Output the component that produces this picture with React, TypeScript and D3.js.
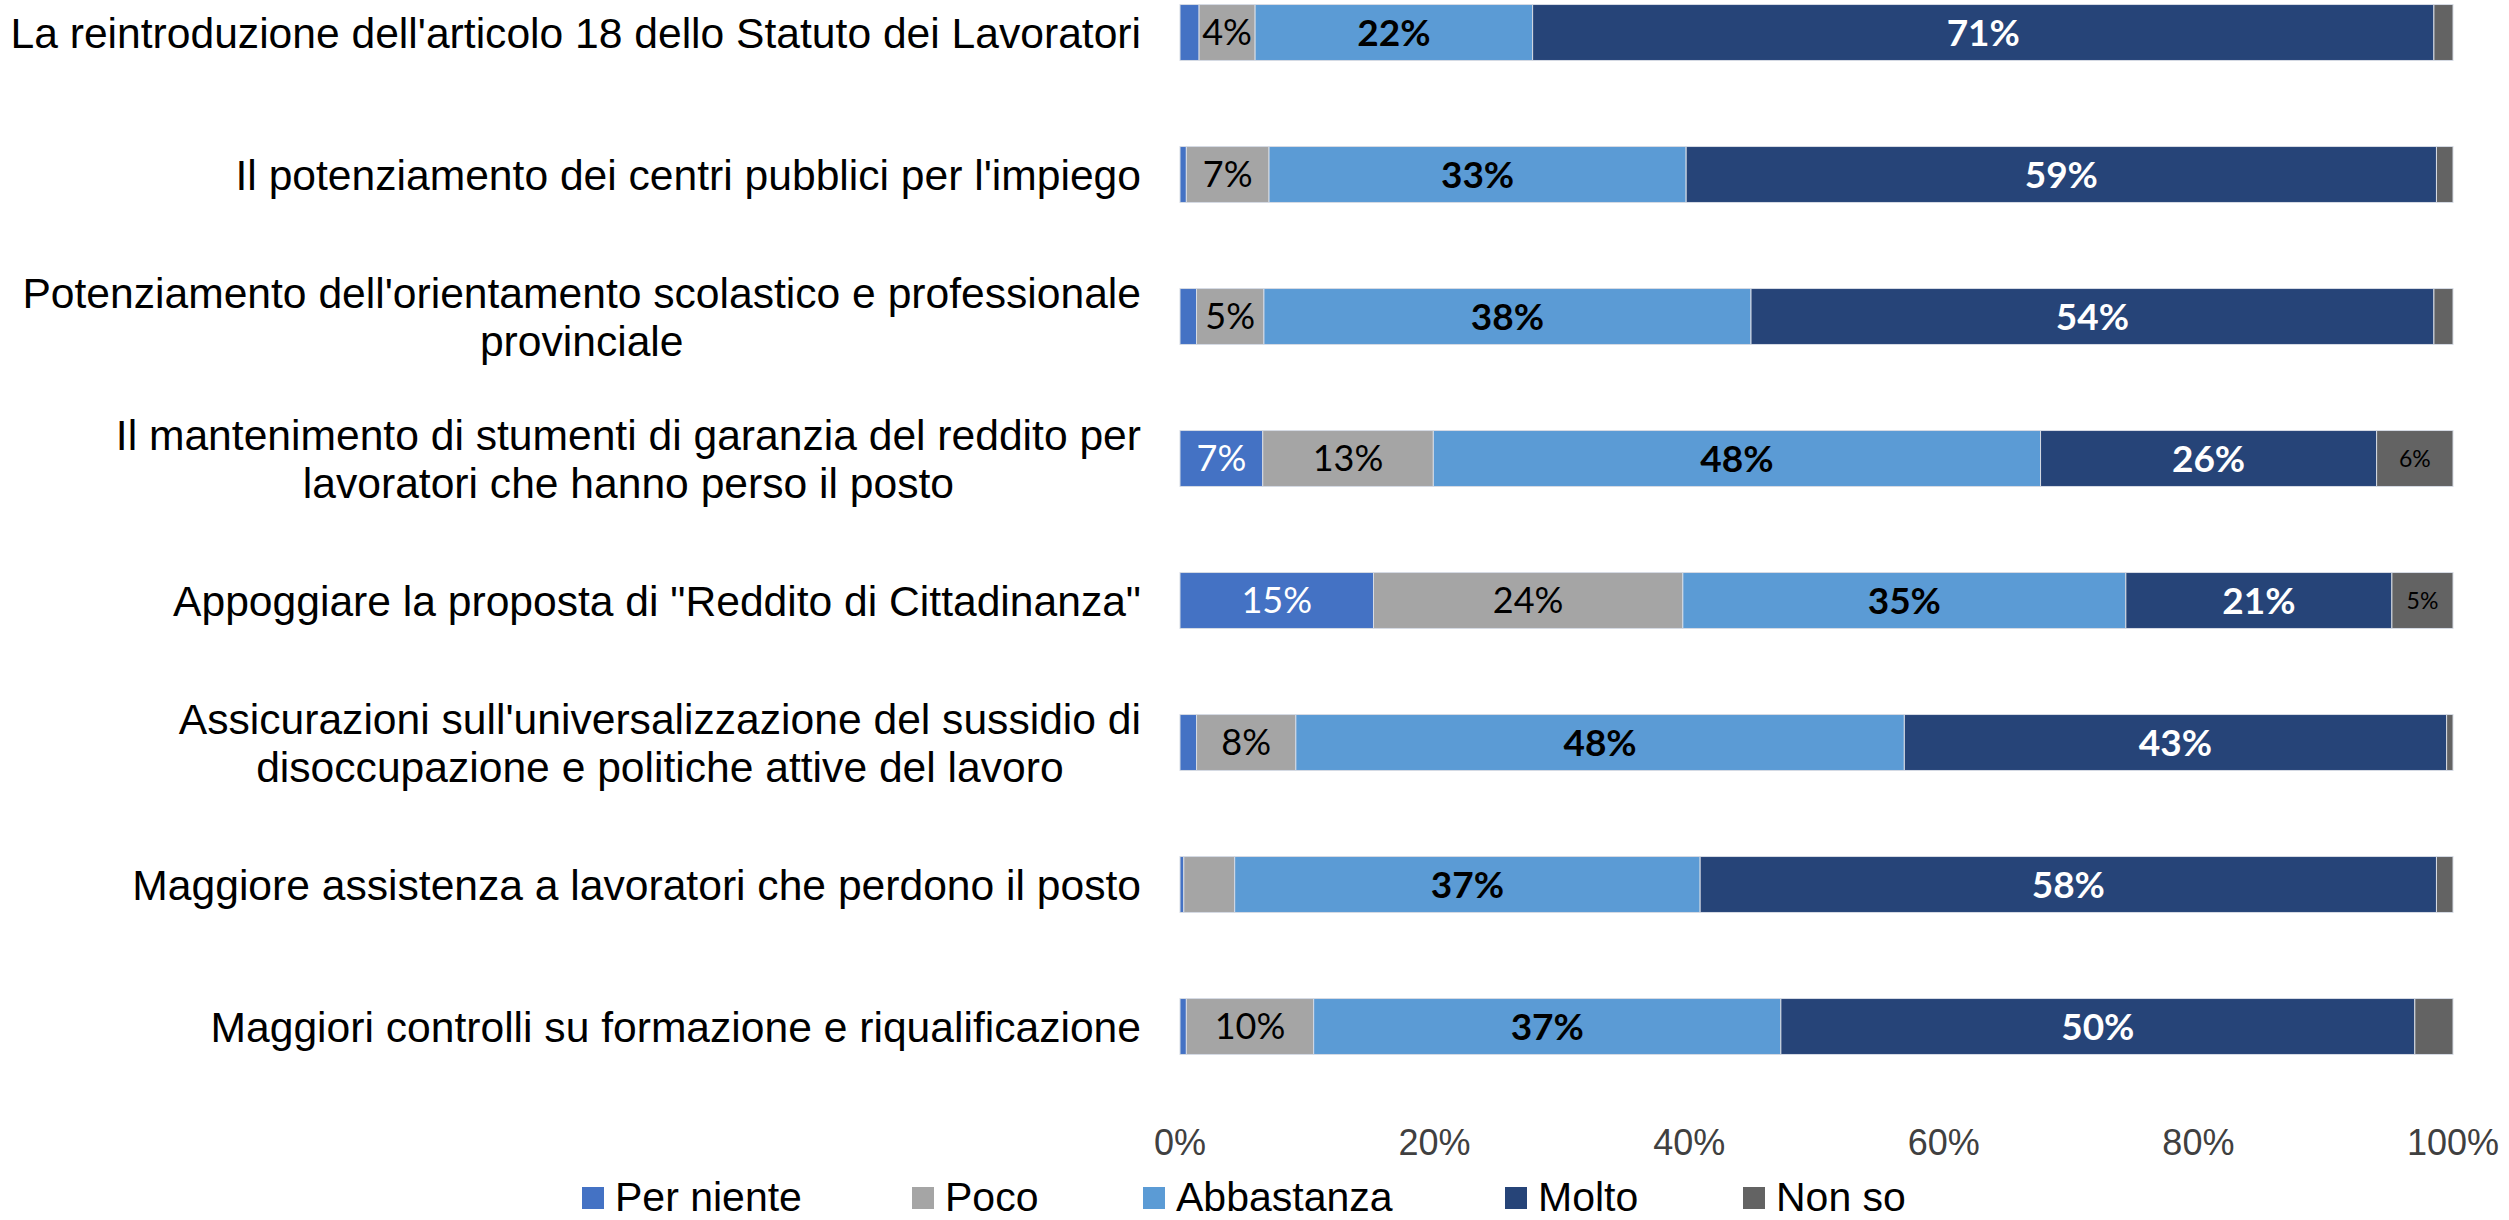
import React, { useEffect, useRef } from "react";
import * as d3 from "d3";

const categories = [
  "La reintroduzione dell'articolo 18 dello Statuto dei Lavoratori",
  "Il potenziamento dei centri pubblici per l'impiego",
  "Potenziamento dell'orientamento scolastico e professionale\nprovinciale",
  "Il mantenimento di stumenti di garanzia del reddito per\nlavoratori che hanno perso il posto",
  "Appoggiare la proposta di \"Reddito di Cittadinanza\"",
  "Assicurazioni sull'universalizzazione del sussidio di\ndisoccupazione e politiche attive del lavoro",
  "Maggiore assistenza a lavoratori che perdono il posto",
  "Maggiori controlli su formazione e riqualificazione",
];

const seriesNames = ["Per niente", "Poco", "Abbastanza", "Molto", "Non so"];

const perNiente = [1.5, 0.5, 1.3, 6.5, 15.2, 1.3, 0.3, 0.5];
const poco = [4.4, 6.5, 5.3, 13.4, 24.3, 7.8, 4.0, 10.0];
const abbastanza = [21.8, 32.8, 38.3, 47.7, 34.8, 47.8, 36.6, 36.7];
const molto = [70.8, 59.0, 53.7, 26.4, 20.9, 42.6, 57.9, 49.8];
const nonSo = [1.5, 1.3, 1.5, 6.0, 4.8, 0.5, 1.3, 3.0];

const tickValues = [0, 0.2, 0.4, 0.6, 0.8, 1];

const colors = ["#4472C4", "#A5A5A5", "#5B9BD5", "#264478", "#636363"];
const labelColors = ["#ffffff", "#000000", "#000000", "#ffffff", "#000000"];
const labelWeights = ["normal", "normal", "bold", "bold", "normal"];
const labelSizes = [36, 36, 37, 37, 23];

const App = () => {
  const svgEl = useRef(null);

  useEffect(() => {
    if (!svgEl.current) return;
    draw(svgEl.current);
  }, []);

  return (
    <svg
      ref={svgEl}
      width={2509}
      height={1220}
      style={{ position: "absolute", left: 0, top: 0, display: "block", background: "#fff" }}
    ></svg>
  );
};

function draw(svgNode) {
  const svg = d3.select(svgNode);
  svg.selectAll("*").remove();

  const table = categories.map((c, i) => ({
    cat: c,
    "Per niente": perNiente[i],
    Poco: poco[i],
    Abbastanza: abbastanza[i],
    Molto: molto[i],
    "Non so": nonSo[i],
  }));

  const stacked = d3.stack().keys(seriesNames).offset(d3.stackOffsetExpand)(table);

  const x = d3.scaleLinear().domain([0, 1]).range([1180, 2453]);
  const y = d3
    .scaleBand()
    .domain(categories)
    .range([-38.5, 1097.5])
    .paddingInner(0.606)
    .paddingOuter(0.303);

  // bars
  const layers = svg
    .append("g")
    .selectAll("g")
    .data(stacked)
    .join("g")
    .attr("fill", (d, i) => colors[i]);

  layers
    .selectAll("rect")
    .data((d) => d)
    .join("rect")
    .attr("x", (d) => x(d[0]))
    .attr("y", (d) => y(d.data.cat))
    .attr("width", (d) => x(d[1]) - x(d[0]))
    .attr("height", y.bandwidth())
    .attr("stroke", "#d6dbe4")
    .attr("stroke-width", 1);

  // bar labels
  stacked.forEach((layer, si) => {
    const key = seriesNames[si];
    svg
      .append("g")
      .selectAll("text")
      .data(layer.filter((d) => d.data[key] >= 4.2))
      .join("text")
      .attr("x", (d) => (x(d[0]) + x(d[1])) / 2)
      .attr("y", (d) => y(d.data.cat) + y.bandwidth() / 2)
      .attr("dy", "0.36em")
      .attr("text-anchor", "middle")
      .attr("font-family", "Lato, 'Open Sans', sans-serif")
      .attr("font-size", labelSizes[si])
      .attr("font-weight", labelWeights[si])
      .attr("fill", labelColors[si])
      .text((d) => Math.round(d.data[key]) + "%");
  });

  // category labels, multi-line centred on each other, right edge at 1141
  const lineH = 48;
  categories.forEach((c) => {
    const lines = c.split("\n");
    const cy = y(c) + y.bandwidth() / 2;
    const g = svg.append("g");
    const texts = lines.map((ln, li) =>
      g
        .append("text")
        .attr("y", cy + (li - (lines.length - 1) / 2) * lineH)
        .attr("dy", "0.36em")
        .attr("font-family", "'Liberation Sans', Arial, sans-serif")
        .attr("font-size", 42.6)
        .attr("fill", "#000")
        .attr("text-anchor", "middle")
        .text(ln)
    );
    const widths = texts.map((t) => t.node().getComputedTextLength());
    const maxW = d3.max(widths);
    const center = 1141 - maxW / 2;
    texts.forEach((t) => t.attr("x", center));
  });

  // x axis tick labels
  svg
    .append("g")
    .selectAll("text")
    .data(tickValues)
    .join("text")
    .attr("x", (d) => x(d))
    .attr("y", 1155)
    .attr("text-anchor", "middle")
    .attr("font-family", "'Liberation Sans', Arial, sans-serif")
    .attr("font-size", 36)
    .attr("fill", "#404040")
    .text(d3.format(".0%"));

  // legend
  const legendX = [582, 912, 1143, 1505, 1743];
  const lg = svg
    .append("g")
    .selectAll("g")
    .data(seriesNames)
    .join("g")
    .attr("transform", (d, i) => `translate(${legendX[i]},1187)`);
  lg.append("rect")
    .attr("width", 22)
    .attr("height", 22)
    .attr("fill", (d, i) => colors[i]);
  lg.append("text")
    .attr("x", 33)
    .attr("y", 24)
    .attr("font-family", "'Liberation Sans', Arial, sans-serif")
    .attr("font-size", 41)
    .attr("fill", "#000")
    .text((d) => d);
}

export default App;
